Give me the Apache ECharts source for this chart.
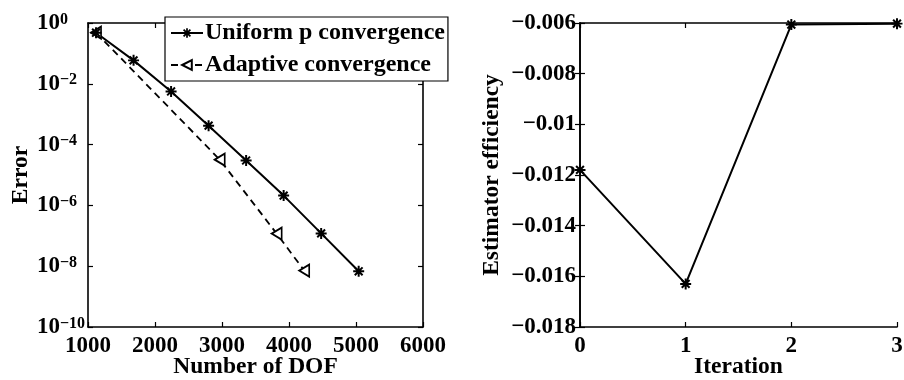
<!DOCTYPE html>
<html>
<head>
<meta charset="utf-8">
<script src="https://cdn.jsdelivr.net/npm/echarts@6/dist/echarts.min.js"></script>
<style>
  html, body { margin: 0; padding: 0; background: #fff; }
  #chart { width: 904px; height: 380px; }
</style>
</head>
<body>
<div id="chart"></div>
<script>
// Convergence of the error against the number of degrees of freedom
const dofUniform = [1120, 1680, 2240, 2800, 3360, 3920, 4480, 5040];
const errUniform = [0.48, 0.059, 0.0056, 4.2e-4, 3.0e-5, 2.1e-6, 1.2e-7, 6.8e-9];
const dofAdaptive = [1120, 2966, 3816, 4227];
const errAdaptive = [0.48, 3.2e-5, 1.18e-7, 7.2e-9];

// Effectivity of the error estimator per refinement iteration
const iterations = [0, 1, 2, 3];
const efficiency = [-0.0118, -0.0163, -0.00606, -0.006025];

const seriesNames = ['Uniform p convergence', 'Adaptive convergence'];
const xNameLeft = 'Number of DOF';
const yNameLeft = 'Error';
const xNameRight = 'Iteration';
const yNameRight = 'Estimator efficiency';

const FONT = "'Liberation Serif', 'Times New Roman', serif";
const BLACK = '#000';

// eight-spoke asterisk marker
const asterisk = 'path://M4.1 0H5.9V10H4.1Z M0 4.1H10V5.9H0Z M2.1 0.8L9.2 7.9L7.9 9.2L0.8 2.1Z M7.9 0.8L9.2 2.1L2.1 9.2L0.8 7.9Z';

const chart = echarts.init(document.getElementById('chart'), null, { renderer: 'canvas' });

const axisLineStyle = { show: true, lineStyle: { color: BLACK, width: 1.6 } };
const tickStyle = { show: true, inside: true, length: 5, lineStyle: { color: BLACK, width: 1.2 } };
const labelText = { color: BLACK, fontFamily: FONT, fontWeight: 'bold', fontSize: 23 };
const nameText = { color: BLACK, fontFamily: FONT, fontWeight: 'bold', fontSize: 23.5 };

function powerLabel(v) {
  const e = Math.round(Math.log10(v));
  const exp = e < 0 ? '\u2212' + (-e) : String(e);
  return '{b|10}{s|' + exp + '}';
}

function plainLabel(v) {
  return String(v);
}

function decimalLabel(v) {
  const s = String(parseFloat(v.toFixed(4)));
  return s.replace('-', '\u2212');
}

// mirror axis drawn on the opposite edge of a grid: line and inward ticks only
function mirror(base, extra) {
  return Object.assign({}, base, {
    axisLine: axisLineStyle,
    axisTick: tickStyle,
    axisLabel: { show: false },
    splitLine: { show: false },
    name: ''
  }, extra);
}

const xLeft = {
  type: 'value', gridIndex: 0, position: 'bottom',
  min: 1000, max: 6000, interval: 1000,
  axisLine: axisLineStyle, axisTick: tickStyle, splitLine: { show: false },
  axisLabel: Object.assign({ margin: 8, showMinLabel: true, showMaxLabel: true, formatter: plainLabel }, labelText),
  name: xNameLeft, nameLocation: 'middle', nameGap: 28, nameMoveOverlap: false, nameTextStyle: nameText
};
const yLeft = {
  type: 'log', logBase: 100, gridIndex: 0, position: 'left',
  min: 1e-10, max: 1, interval: 1,
  axisLine: axisLineStyle, axisTick: tickStyle, splitLine: { show: false },
  minorTick: { show: false },
  axisLabel: {
    margin: 51, align: 'left', showMinLabel: true, showMaxLabel: true,
    formatter: powerLabel,
    rich: {
      b: Object.assign({}, labelText, { lineHeight: 23, verticalAlign: 'bottom' }),
      s: Object.assign({}, labelText, { fontSize: 16, lineHeight: 16, verticalAlign: 'top' })
    }
  },
  name: yNameLeft, nameLocation: 'middle', nameGap: 55, nameMoveOverlap: false, nameTextStyle: nameText
};
const xRight = {
  type: 'value', gridIndex: 1, position: 'bottom',
  min: 0, max: 3, interval: 1,
  axisLine: axisLineStyle, axisTick: tickStyle, splitLine: { show: false },
  axisLabel: Object.assign({ margin: 8, showMinLabel: true, showMaxLabel: true, formatter: plainLabel }, labelText),
  name: xNameRight, nameLocation: 'middle', nameGap: 28, nameMoveOverlap: false, nameTextStyle: nameText
};
const yRight = {
  type: 'value', gridIndex: 1, position: 'left',
  min: -0.018, max: -0.006, interval: 0.002,
  axisLine: axisLineStyle, axisTick: tickStyle, splitLine: { show: false },
  axisLabel: Object.assign({ margin: 4, showMinLabel: true, showMaxLabel: true, formatter: decimalLabel }, labelText),
  name: yNameRight, nameLocation: 'middle', nameGap: 76, nameMoveOverlap: false, nameTextStyle: nameText
};

const option = {
  backgroundColor: '#fff',
  animation: false,
  grid: [
    { left: 88, top: 23, width: 335, height: 304, containLabel: false, outerBoundsMode: 'none' },
    { left: 580, top: 23, width: 317, height: 304, containLabel: false, outerBoundsMode: 'none' }
  ],
  xAxis: [
    xLeft,
    mirror(xLeft, { position: 'top' }),
    xRight,
    mirror(xRight, { position: 'top' })
  ],
  yAxis: [
    yLeft,
    mirror(yLeft, { position: 'right' }),
    yRight,
    mirror(yRight, { position: 'right' })
  ],
  legend: {
    data: seriesNames,
    orient: 'vertical',
    left: 165, top: 17,
    padding: [4, 3, 4, 5],
    itemGap: 8,
    itemWidth: 32, itemHeight: 12,
    backgroundColor: '#fff',
    borderColor: BLACK, borderWidth: 1.2,
    borderRadius: 0,
    textStyle: Object.assign({}, labelText, { fontSize: 24, padding: [0, 0, 0, -3] }),
    selectedMode: false
  },
  series: [
    {
      name: seriesNames[1], type: 'line', xAxisIndex: 0, yAxisIndex: 0,
      data: dofAdaptive.map((x, i) => [x, errAdaptive[i]]),
      symbol: 'triangle', symbolSize: [12, 10], symbolRotate: 90,
      showAllSymbol: true, clip: false,
      lineStyle: { color: BLACK, width: 1.8, type: [7, 5] },
      itemStyle: { color: '#fff', borderColor: BLACK, borderWidth: 1.8 }
    },
    {
      name: seriesNames[0], type: 'line', xAxisIndex: 0, yAxisIndex: 0,
      data: dofUniform.map((x, i) => [x, errUniform[i]]),
      symbol: asterisk, symbolSize: 11,
      showAllSymbol: true, clip: false,
      lineStyle: { color: BLACK, width: 2 },
      itemStyle: { color: BLACK, borderWidth: 0 }
    },
    {
      name: 'efficiency', type: 'line', xAxisIndex: 2, yAxisIndex: 2,
      data: iterations.map((x, i) => [x, efficiency[i]]),
      symbol: asterisk, symbolSize: 11,
      showAllSymbol: true, clip: false,
      lineStyle: { color: BLACK, width: 2 },
      itemStyle: { color: BLACK, borderWidth: 0 }
    }
  ]
};

chart.setOption(option);
</script>
</body>
</html>
